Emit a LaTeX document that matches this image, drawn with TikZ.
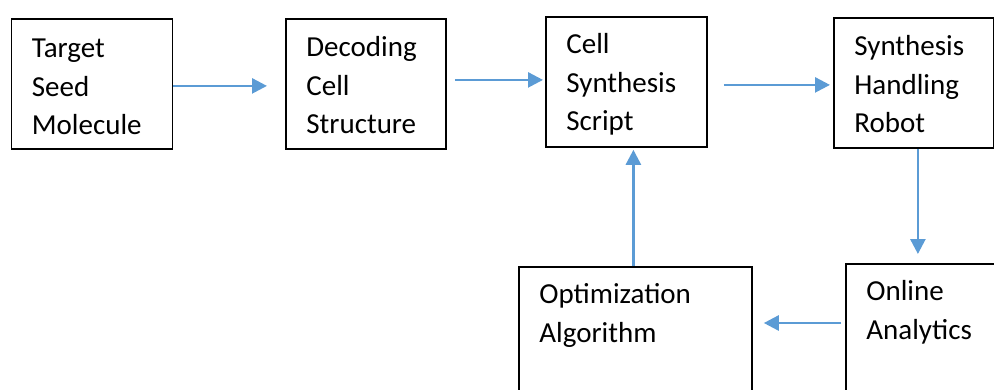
\documentclass[tikz,border=0pt]{standalone}
\usepackage{fontspec}
\setmainfont{Carlito}
\usepackage{tikz}
\usetikzlibrary{arrows.meta}

\definecolor{flowblue}{HTML}{5B9BD5}

\begin{document}
\begin{tikzpicture}[x=1pt,y=-1pt,
  stage/.style={draw, line width=1.8pt, anchor=north west, align=left,
    inner xsep=20.5pt, inner ysep=0pt, font=\fontsize{29}{38.5}\selectfont},
  flow/.style={draw=flowblue, line width=2.6pt, -{Triangle[length=15pt,width=15pt]}}]
\useasboundingbox (0,0) rectangle (994,389);
\clip (0,0) rectangle (994,389);
% Top row of boxes, positions
\node[stage, text width=120pt, text height=39pt, text depth=91pt] (seed) at (10.5,18) {Target\\Seed\\Molecule};
\node[stage, text width=119pt, text height=38pt, text depth=92pt] (decoding) at (285,18) {Decoding\\Cell\\Structure};
\node[stage, text width=120pt, text height=37pt, text depth=93pt] (script) at (545,16) {Cell\\Synthesis\\Script};
\node[stage, text width=119pt, text height=38pt, text depth=92pt] (robot) at (833,17) {Synthesis\\Handling\\Robot};
% Bottom row runs off the edge of the picture
\node[stage, text width=192pt, text height=37pt, text depth=97pt] (optimize) at (518,266) {Optimization\\Algorithm};
\node[stage, text width=114pt, text height=37pt, text depth=100pt] (analytics) at (845,263) {Online\\Analytics};
\coordinate (loop) at (0,323);
% Arrows
\draw[flow, shorten >=18pt] ([yshift=-2pt]seed.east) -- ([yshift=-2pt]seed.east -| decoding.west);
\draw[flow, shorten <=8pt, shorten >=2pt] ([yshift=4pt]decoding.east) -- ([yshift=4pt]decoding.east -| script.west);
\draw[flow, shorten <=16pt, shorten >=3pt] ([yshift=-3pt]script.east) -- ([yshift=-3pt]script.east -| robot.west);
\draw[flow, shorten >=9pt] ([xshift=4pt]robot.south) -- ([xshift=4pt]robot.south |- analytics.north);
\draw[flow, shorten <=4pt, shorten >=11pt] (analytics.west |- loop) -- (optimize.east |- loop);
\draw[flow, shorten >=2pt] ([xshift=-2pt]optimize.north) -- ([xshift=-2pt]optimize.north |- script.south);
\end{tikzpicture}
\end{document}
